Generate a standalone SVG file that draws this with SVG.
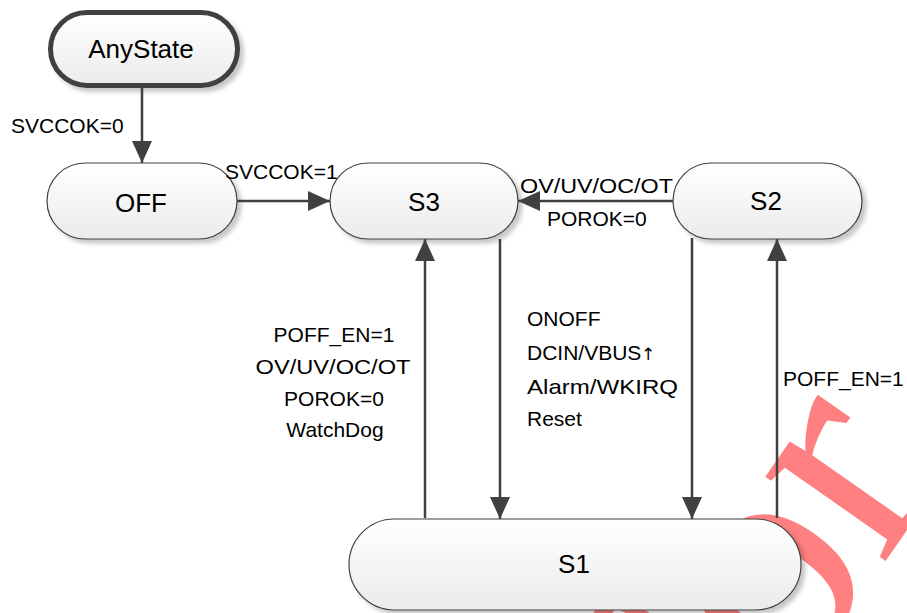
<svg xmlns="http://www.w3.org/2000/svg" width="907" height="613" viewBox="0 0 907 613">
<defs>
<linearGradient id="g" x1="0" y1="0" x2="0" y2="1">
<stop offset="0" stop-color="#ffffff"/>
<stop offset="1" stop-color="#ebebeb"/>
</linearGradient>
<filter id="sh" x="-10%" y="-10%" width="130%" height="150%">
<feDropShadow dx="4" dy="4" stdDeviation="2" flood-color="#000" flood-opacity="0.22"/>
</filter>
<marker id="ah" markerUnits="userSpaceOnUse" markerWidth="22" markerHeight="20" refX="22" refY="10" orient="auto">
<path d="M0,0 L22,10 L0,20 z" fill="#404040"/>
</marker>
<style>
.node{fill:url(#g);stroke:#404040;stroke-width:1.2;filter:url(#sh)}
.thick{stroke-width:5}
.nl{font-family:"Liberation Sans",Arial,sans-serif;font-size:26px;fill:#000;text-anchor:middle}
.lb{font-family:"Liberation Sans",Arial,sans-serif;font-size:21px;fill:#000}
.mid{text-anchor:middle}
.conn path{fill:none;stroke:#404040;stroke-width:2.5;marker-end:url(#ah)}
.wm{font-family:"Liberation Serif","Times New Roman",serif;font-size:320px;fill:#ff8080}
.ar{font-family:"DejaVu Sans",sans-serif;font-size:17px;fill:#000}
</style>
</defs>
<rect width="907" height="613" fill="#ffffff"/>
<text class="wm" transform="translate(688,843) rotate(-55)">For</text>

<g id="node-anystate">
<rect class="node thick" x="50.5" y="12.5" width="187" height="73" rx="36.5"/>
<text class="nl" x="141" y="58">AnyState</text>
</g>
<g id="node-off">
<rect class="node" x="47" y="163" width="190" height="76" rx="38"/>
<text class="nl" x="141" y="212">OFF</text>
</g>
<g id="node-s3">
<rect class="node" x="330" y="163" width="188" height="76" rx="38"/>
<text class="nl" x="424" y="211">S3</text>
</g>
<g id="node-s2">
<rect class="node" x="673" y="163" width="189" height="76" rx="38"/>
<text class="nl" x="766" y="210">S2</text>
</g>
<g id="node-s1">
<rect class="node" x="349" y="519" width="452" height="91" rx="45.5"/>
<text class="nl" x="574" y="573">S1</text>
</g>

<g id="connectors" class="conn">
<path d="M142,88 V163"/>
<path d="M237,201 H330"/>
<path d="M673,201 H518"/>
<path d="M500,239 V519"/>
<path d="M425,518 V239"/>
<path d="M692,238 V519"/>
<path d="M777,518 V239"/>
</g>

<g id="labels">
<text class="lb" x="11" y="133">SVCCOK=0</text>
<text class="lb" x="225" y="179">SVCCOK=1</text>
<text class="lb" x="520" y="193" textLength="153" lengthAdjust="spacingAndGlyphs">OV/UV/OC/OT</text>
<text class="lb" x="547" y="226">POROK=0</text>
<text class="lb mid" x="334" y="342">POFF_EN=1</text>
<text class="lb mid" x="333" y="374" textLength="155" lengthAdjust="spacingAndGlyphs">OV/UV/OC/OT</text>
<text class="lb mid" x="334" y="406">POROK=0</text>
<text class="lb mid" x="335" y="437">WatchDog</text>
<text class="lb" x="527" y="326">ONOFF</text>
<text class="lb" x="527" y="360">DCIN/VBUS</text>
<text class="ar" x="641" y="360">↑</text>
<text class="lb" x="527" y="394" textLength="151" lengthAdjust="spacingAndGlyphs">Alarm/WKIRQ</text>
<text class="lb" x="527" y="426">Reset</text>
<text class="lb" x="783" y="386">POFF_EN=1</text>
</g>
</svg>
